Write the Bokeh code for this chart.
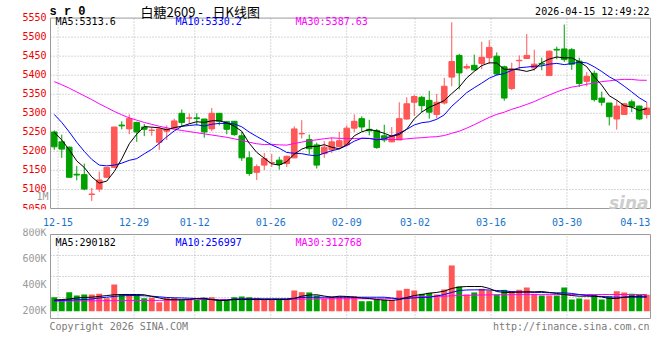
import numpy as np
import pandas as pd
from bokeh.plotting import figure
from bokeh.layouts import column
from bokeh.models import Range1d, FixedTicker, Label, ColumnDataSource
from bokeh.core.properties import value
from bokeh.embed import file_html
from bokeh.resources import INLINE

# ---------------- data ----------------
dates = ["12-12",
         "12-15", "12-16", "12-17", "12-18", "12-19",
         "12-22", "12-23", "12-24", "12-25", "12-26",
         "12-29", "12-30", "12-31",
         "01-05", "01-06", "01-07", "01-08", "01-09",
         "01-12", "01-13", "01-14", "01-15", "01-16",
         "01-19", "01-20", "01-21", "01-22", "01-23",
         "01-26", "01-27", "01-28", "01-29", "01-30",
         "02-02", "02-03", "02-04", "02-05", "02-06",
         "02-09", "02-10", "02-11", "02-12", "02-13",
         "02-24", "02-25", "02-26", "02-27",
         "03-02", "03-03", "03-04", "03-05", "03-06",
         "03-09", "03-10", "03-11", "03-12", "03-13",
         "03-16", "03-17", "03-18", "03-19", "03-20",
         "03-23", "03-24", "03-25", "03-26", "03-27",
         "03-30", "03-31", "04-01", "04-02", "04-03",
         "04-07", "04-08", "04-09", "04-10",
         "04-13", "04-14", "04-15"]

open_ = [5251, 5225, 5211, 5140, 5139, 5087, 5101, 5132, 5158, 5269,
         5259, 5276, 5264, 5255, 5224, 5253, 5261, 5300, 5287, 5288,
         5285, 5259, 5300, 5278, 5279, 5241, 5183, 5145, 5164, 5170,
         5177, 5168, 5183, 5246, 5231, 5217, 5194, 5204, 5213, 5217,
         5261, 5286, 5258, 5255, 5241, 5225, 5230, 5285, 5329, 5342,
         5334, 5297, 5327, 5395, 5452, 5419, 5426, 5431, 5446, 5450,
         5422, 5365, 5438, 5444, 5419, 5431, 5399, 5468, 5469, 5467,
         5437, 5384, 5405, 5340, 5327, 5285, 5297, 5330, 5319, 5297]
high = [5255, 5244, 5213, 5162, 5168, 5104, 5147, 5158, 5264, 5279,
        5297, 5278, 5272, 5264, 5264, 5268, 5286, 5310, 5299, 5300,
        5285, 5314, 5300, 5280, 5280, 5251, 5200, 5166, 5196, 5193,
        5186, 5189, 5266, 5282, 5244, 5223, 5227, 5236, 5251, 5268,
        5297, 5292, 5283, 5259, 5270, 5264, 5329, 5342, 5348, 5346,
        5359, 5351, 5393, 5539, 5456, 5430, 5454, 5488, 5492, 5460,
        5425, 5433, 5452, 5508, 5467, 5446, 5465, 5475, 5533, 5471,
        5446, 5408, 5412, 5357, 5327, 5334, 5327, 5336, 5320, 5329]
low = [5204, 5183, 5132, 5124, 5098, 5070, 5094, 5130, 5156, 5258,
       5245, 5225, 5240, 5241, 5204, 5230, 5259, 5264, 5272, 5268,
       5236, 5253, 5268, 5245, 5241, 5175, 5136, 5125, 5151, 5159,
       5152, 5159, 5183, 5234, 5192, 5155, 5183, 5196, 5208, 5213,
       5251, 5253, 5242, 5207, 5224, 5224, 5230, 5283, 5293, 5303,
       5286, 5286, 5323, 5371, 5363, 5415, 5412, 5416, 5429, 5399,
       5333, 5361, 5412, 5443, 5412, 5413, 5399, 5442, 5435, 5414,
       5369, 5371, 5331, 5320, 5268, 5257, 5296, 5303, 5282, 5286]
close = [5212, 5206, 5132, 5138, 5101, 5088, 5125, 5158, 5264, 5267,
         5286, 5251, 5258, 5256, 5259, 5259, 5280, 5276, 5288, 5286,
         5251, 5300, 5279, 5258, 5244, 5183, 5142, 5160, 5181, 5171,
         5166, 5187, 5259, 5247, 5207, 5164, 5211, 5225, 5228, 5261,
         5279, 5264, 5254, 5210, 5230, 5241, 5286, 5325, 5344, 5320,
         5303, 5329, 5371, 5436, 5406, 5423, 5414, 5447, 5473, 5403,
         5340, 5416, 5439, 5452, 5429, 5429, 5463, 5466, 5441, 5429,
         5378, 5397, 5336, 5329, 5291, 5319, 5325, 5317, 5285, 5314]

# moving-average values before enough history is on screen
ma5_head = [5250, 5230, 5204, 5175]
ma10_head = [5297, 5276, 5251, 5224, 5200, 5179, 5164, 5162, 5164]
ma30_head = [5383, 5375, 5366, 5356, 5346, 5336, 5325, 5315, 5305, 5296,
             5288, 5282, 5276, 5271, 5266, 5262, 5258, 5255, 5252, 5249,
             5246, 5243, 5240, 5237, 5233, 5229, 5224, 5220, 5218]

volume = [315, 297, 354, 328, 336, 336, 341, 307, 414, 336,
          336, 334, 307, 310, 276, 310, 310, 297, 297, 295,
          310, 315, 290, 290, 315, 321, 315, 310, 297, 300,
          297, 297, 367, 354, 352, 328, 303, 321, 323, 323,
          323, 284, 284, 295, 295, 295, 367, 380, 367, 341,
          349, 336, 375, 561, 398, 336, 352, 380, 367, 336,
          372, 362, 372, 390, 341, 328, 328, 328, 390, 297,
          305, 297, 336, 297, 323, 362, 352, 341, 334, 334]  # thousands
vol_ma5 = [293, 297, 301, 309, 313, 315, 321, 328, 334, 336,
           336, 336, 334, 321, 309, 297, 295, 295, 297, 305,
           307, 297, 290, 290, 297, 297, 297, 297, 297, 297,
           297, 297, 305, 323, 332, 334, 324, 315, 323, 321,
           315, 309, 305, 297, 293, 290, 297, 313, 328, 336,
           346, 352, 362, 383, 394, 398, 398, 398, 383, 359,
           352, 352, 355, 357, 357, 359, 352, 344, 336, 328,
           323, 323, 323, 317, 305, 305, 315, 321, 323, 323]
vol_ma10 = [286, 290, 292, 295, 297, 301, 309, 315, 321, 326,
            328, 328, 326, 323, 318, 313, 310, 309, 307, 305,
            301, 297, 290, 293, 301, 303, 303, 303, 303, 303,
            303, 303, 307, 313, 315, 315, 315, 315, 315, 315,
            315, 315, 315, 315, 315, 309, 301, 305, 310, 313,
            315, 324, 336, 352, 367, 371, 372, 372, 371, 367,
            363, 359, 355, 354, 352, 352, 349, 349, 349, 344,
            336, 328, 324, 321, 317, 315, 315, 315, 315, 315]
vol_ma30 = [284, 285, 286, 286, 287, 287, 288, 288, 288, 289,
            289, 289, 290, 290, 290, 292, 293, 294, 295, 296,
            297, 297, 297, 297, 297, 297, 297, 297, 297, 297,
            297, 298, 299, 300, 301, 302, 303, 303, 303, 303,
            303, 303, 303, 303, 303, 305, 308, 312, 315, 318,
            320, 322, 323, 326, 328, 330, 331, 332, 333, 334,
            334, 334, 335, 335, 335, 335, 335, 336, 336, 336,
            336, 336, 336, 336, 336, 336, 336, 336, 336, 336]

date_labels = ["12-15", "12-29", "01-12", "01-26", "02-09", "03-02", "03-16", "03-30", "04-13"]
price_ticks = [5050, 5100, 5150, 5200, 5250, 5300, 5350, 5400, 5450, 5500, 5550]
vol_ticks = [200, 400, 600, 800]
vol_tick_labels = ["200K", "400K", "600K", "800K"]
vol_box = [150, 801]           # volume panel extent (thousands)
one_m_level = 5081             # where the grey "1M" marker sits on the price scale

legend_price = ["MA5:5313.6", "MA10:5330.2", "MA30:5387.63"]
legend_vol = ["MA5:290182", "MA10:256997", "MA30:312768"]

# ---------------- derived ----------------
N = len(dates)
xs = (np.arange(N) + 0.5) * (N - 1) / N          # candle slots; date grid uses N-1 divisions


def moving(vals, n, head):
    s = pd.Series(vals, dtype=float).rolling(n).mean().to_numpy()
    s[:n - 1] = head
    return s


ma5 = moving(close, 5, ma5_head)
ma10 = moving(close, 10, ma10_head)
ma30 = moving(close, 30, ma30_head)

RED = "#ff5656"
GREEN = "#00a000"
up = [c >= o for o, c in zip(open_, close)]
colors = [RED if u else GREEN for u in up]
src = ColumnDataSource(dict(
    x=xs, open=open_, high=high, low=low, close=close,
    top=[max(o, c) for o, c in zip(open_, close)],
    bottom=[min(o, c) for o, c in zip(open_, close)],
    color=colors,
    vol=[v * 1000 for v in volume],
))

date_idx = [dates.index(d) for d in date_labels]
grid_idx = date_idx[:-1]
MONO = "DejaVu Sans Mono"
GRID = "#b0b0b0"
BORDER = "#9a9a9a"

# pixel geometry: both frames span the full width, the box starts 50px in
PX_X = 600 / (N - 1)
P_LO, P_HI = price_ticks[0], price_ticks[-1]
PX_P = 195 / (P_HI - P_LO)
V_LO, V_HI = vol_box[0] * 1000, vol_box[1] * 1000
PX_V = 84 / (V_HI - V_LO)
x_range = Range1d(-50 / PX_X, (N - 1) + 1 / PX_X)


def hgrid(p, levels):
    p.segment(x0=[0] * len(levels), y0=levels, x1=[N - 1] * len(levels), y1=levels,
              line_color=GRID, line_dash="1 2", line_width=1)


def vgrid(p, lo, hi):
    p.segment(x0=grid_idx, y0=[lo] * len(grid_idx), x1=grid_idx, y1=[hi] * len(grid_idx),
              line_color=GRID, line_dash="1 2", line_width=1)


def box(p, lo, hi):
    p.quad(left=[0], right=[N - 1], bottom=[lo], top=[hi], fill_color=None,
           line_color=BORDER, line_width=1)


# ---------------- price panel (frame also holds the header line) ----------------
p1 = figure(width=652, height=228, x_range=x_range,
            y_range=Range1d(P_LO - 1 / PX_P, P_HI + 18 / PX_P),
            output_backend="svg", toolbar_location=None, y_axis_location=None,
            min_border_left=0, min_border_right=1, min_border_top=0, min_border_bottom=14)
hgrid(p1, price_ticks[1:-1])
vgrid(p1, P_LO, P_HI)
box(p1, P_LO, P_HI)
p1.segment("x", "high", "x", "low", color="color", line_width=1, source=src)
p1.vbar(x="x", width=0.74, top="top", bottom="bottom", fill_color="color",
        line_color="color", line_width=1, source=src)
p1.line(xs, ma30, color="#ff00ff", line_width=1)
p1.line(xs, ma10, color="#0000ff", line_width=1)
p1.line(xs, ma5, color="#000000", line_width=1)

# price tick labels (red) and the grey "1M" marker, right-aligned just left of the box
p1.text(x=[-4 / PX_X] * len(price_ticks), y=price_ticks, text=[str(t) for t in price_ticks],
        text_align="right", text_baseline="middle", text_color="#ee0000",
        text_font=value(MONO), text_font_size="10px", y_offset=-1)
p1.text(x=[-2 / PX_X], y=[one_m_level], text=["1M"], text_align="right",
        text_baseline="middle", text_color="#999999",
        text_font=value(MONO), text_font_size="10px")

p1.xaxis.ticker = FixedTicker(ticks=date_idx)
p1.xaxis.major_label_overrides = {i: d for i, d in zip(date_idx, date_labels)}
p1.xaxis.major_label_text_color = "#1874cd"
p1.xaxis.major_label_standoff = 2
p1.grid.visible = False

# ---------------- volume panel (frame also holds the footer line) ----------------
p2 = figure(width=652, height=104, x_range=x_range,
            y_range=Range1d(V_LO - 14 / PX_V, V_HI + 6 / PX_V),
            output_backend="svg", toolbar_location=None, y_axis_location=None,
            min_border_left=0, min_border_right=1, min_border_top=0, min_border_bottom=0)
hgrid(p2, [V_LO + k * (V_HI - V_LO) / 4 for k in (1, 2, 3)])
vgrid(p2, V_LO, V_HI)
box(p2, V_LO, V_HI)
VOL_BASE = 206e3
p2.vbar(x="x", width=0.78, top="vol", bottom=VOL_BASE, fill_color="color",
        line_color=None, source=src)
p2.line(xs, [v * 1000 for v in vol_ma30], color="#ff00ff", line_width=1)
p2.line(xs, [v * 1000 for v in vol_ma10], color="#0000ff", line_width=1)
p2.line(xs, [v * 1000 for v in vol_ma5], color="#000000", line_width=1)
p2.text(x=[-4 / PX_X] * len(vol_ticks), y=[v * 1000 for v in vol_ticks], text=vol_tick_labels,
        text_align="right", text_baseline="middle", text_color="#999999",
        text_font=value(MONO), text_font_size="10px", y_offset=-2)
p2.xaxis.visible = False
p2.grid.visible = False

for p in (p1, p2):
    p.background_fill_color = "white"
    p.border_fill_color = "white"
    p.outline_line_color = None
    for ax in p.xaxis:
        ax.axis_line_color = None
        ax.major_tick_line_color = None
        ax.minor_tick_line_color = None
        ax.major_label_text_font = MONO
        ax.major_label_text_font_size = "10px"


def label(p, x, y, s, color, size="10px", font=MONO, align="left", style="normal"):
    p.add_layout(Label(x=x, y=y, x_units="screen", y_units="screen", text=s,
                       text_color=color, text_font_size=size, text_font=font,
                       text_align=align, text_baseline="alphabetic", text_font_style=style))


# header + price legends (screen px from the frame's bottom-left = page x 0)
label(p1, 49, 198, "s r 0", "#000000", size="12px", font="Liberation Mono", style="bold")
label(p1, 140, 198, "白糖2609", "#000000", size="13px", font="Noto Sans CJK SC")
label(p1, 200, 198, "-", "#000000", size="13px", font="Noto Sans CJK SC", align="center")
label(p1, 212, 198, "日K线图", "#000000", size="13px", font="Noto Sans CJK SC")
label(p1, 649, 198, "2026-04-15 12:49:22", "#000000", align="right")
label(p1, 55, 188, legend_price[0], "#000000")
label(p1, 175, 188, legend_price[1], "#0000ff")
label(p1, 295, 188, legend_price[2], "#ff00ff")
label(p1, 648, 7, "sina", "#cdcdcd", size="17px", font="DejaVu Sans", align="right", style="bold italic")

# volume legends + footer
label(p2, 55, 90, legend_vol[0], "#000000")
label(p2, 175, 90, legend_vol[1], "#0000ff")
label(p2, 295, 90, legend_vol[2], "#ff00ff")
label(p2, 49, 6, "Copyright 2026 SINA.COM", "#7a7a7a")
label(p2, 649, 6, "http://finance.sina.com.cn", "#7a7a7a", align="right")

layout = column(p1, p2)
open("out.html", "w").write(file_html(layout, INLINE))
